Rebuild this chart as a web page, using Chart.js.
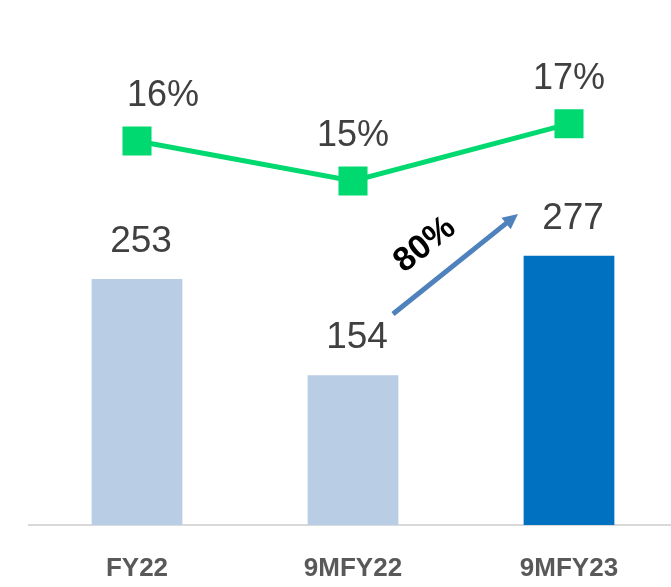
<!DOCTYPE html>
<html>
<head>
<meta charset="utf-8">
<script src="https://cdn.jsdelivr.net/npm/chart.js@4/dist/chart.umd.min.js"></script>
<style>
  html, body { margin: 0; padding: 0; background: #fff; overflow: hidden; }
  #wrap { width: 680px; height: 587px; }
</style>
</head>
<body>
<div id="wrap"><canvas id="chart"></canvas></div>
<script>
const categories = ["FY22", "9MFY22", "9MFY23"];
const revenue = [253, 154, 277];
const margin = [16.3, 15.3, 16.73];
const barColors = ["#b9cde5", "#b9cde5", "#0070c0"];
const growthLabel = "80%";

const FONT = "'Liberation Sans', Arial, sans-serif";
// the first margin label sits a little to the right in the original
const marginLabelShift = [26, 0, 0];

// value labels over bars and line points
const labelPlugin = {
  id: "labels",
  afterDatasetsDraw(chart) {
    const ctx = chart.ctx;
    ctx.save();
    ctx.textAlign = "center";
    ctx.textBaseline = "middle";
    ctx.fillStyle = "#404040";
    ctx.font = "37px " + FONT;
    chart.getDatasetMeta(1).data.forEach((bar, i) => {
      ctx.fillText(revenue[i], bar.x + 4, bar.y - 37);
    });
    ctx.font = "36px " + FONT;
    chart.getDatasetMeta(0).data.forEach((pt, i) => {
      ctx.fillText(Math.round(margin[i]) + "%", pt.x + marginLabelShift[i], pt.y - 45);
    });
    ctx.restore();
  }
};

// growth arrow between 9MFY22 and 9MFY23
const arrowPlugin = {
  id: "arrow",
  afterDatasetsDraw(chart) {
    const ctx = chart.ctx;
    const x = chart.scales.x, y = chart.scales.y;
    const x0 = x.getPixelForValue(1) + 40, y0 = y.getPixelForValue(217);
    const x1 = x.getPixelForValue(2) - 51, y1 = y.getPixelForValue(320);
    const ang = Math.atan2(y1 - y0, x1 - x0);
    const head = 17;
    ctx.save();
    ctx.strokeStyle = "#4f81bd";
    ctx.fillStyle = "#4f81bd";
    ctx.lineWidth = 5;
    ctx.beginPath();
    ctx.moveTo(x0, y0);
    ctx.lineTo(x1 - Math.cos(ang) * head * 0.8, y1 - Math.sin(ang) * head * 0.8);
    ctx.stroke();
    ctx.beginPath();
    ctx.moveTo(x1, y1);
    ctx.lineTo(x1 - head * Math.cos(ang - 0.45), y1 - head * Math.sin(ang - 0.45));
    ctx.lineTo(x1 - head * Math.cos(ang + 0.45), y1 - head * Math.sin(ang + 0.45));
    ctx.closePath();
    ctx.fill();

    ctx.translate(x0 + 32, y0 - 69);
    ctx.rotate(ang);
    ctx.font = "bold 34px " + FONT;
    ctx.fillStyle = "#000";
    ctx.textAlign = "center";
    ctx.textBaseline = "middle";
    ctx.fillText(growthLabel, 0, 0);
    ctx.restore();
  }
};

new Chart(document.getElementById("chart"), {
  data: {
    labels: categories,
    datasets: [
      {
        type: "line",
        data: margin,
        yAxisID: "y2",
        borderColor: "#00d96f",
        backgroundColor: "#00d96f",
        borderWidth: 5,
        pointStyle: "rect",
        pointRadius: 17,
        pointHoverRadius: 17,
        tension: 0,
        order: 0
      },
      {
        type: "bar",
        data: revenue,
        yAxisID: "y",
        backgroundColor: barColors,
        categoryPercentage: 1,
        barPercentage: 0.42,
        order: 1
      }
    ]
  },
  options: {
    responsive: true,
    maintainAspectRatio: false,
    animation: false,
    events: [],
    layout: { autoPadding: false, padding: { left: 29, right: 3, top: 0, bottom: 2 } },
    plugins: { legend: { display: false }, tooltip: { enabled: false } },
    scales: {
      x: {
        grid: { display: false, drawTicks: false },
        border: { display: true, color: "#d9d9d9", width: 2 },
        ticks: {
          padding: 28,
          color: "#595959",
          font: { family: FONT, size: 26, weight: "bold" }
        },
        afterFit(scale) { scale.height = 60; }
      },
      y: { display: false, min: 0, max: 540 },
      y2: { display: false, min: 6.7, max: 19.825 }
    }
  },
  plugins: [labelPlugin, arrowPlugin]
});
</script>
</body>
</html>
